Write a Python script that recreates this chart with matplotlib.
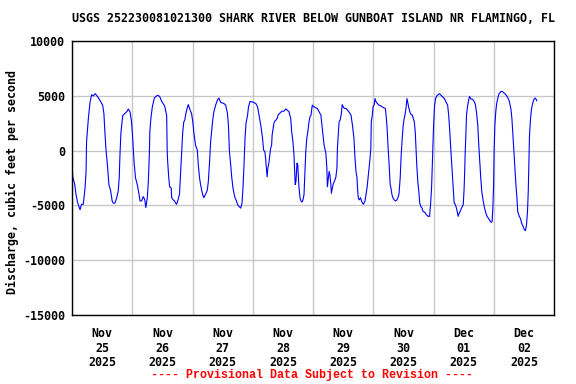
import numpy as np
import pandas as pd
import matplotlib
matplotlib.use("Agg")
import matplotlib.pyplot as plt

# hours after 2025-11-25 00:00, discharge in cfs
hours = [
    0.0, 0.3, 1.1, 1.6, 2.1, 2.6, 3.2, 3.8, 4.5, 5.2, 5.6, 5.8, 6.5, 7.2, 7.8, 8.5, 9.2, 9.8,
    11.1, 12.2, 12.7, 13.1, 13.5, 14.1, 14.7, 15.4, 16.0, 16.4, 17.1, 17.8, 18.4, 18.8, 19.1,
    19.5, 20.2, 21.1, 22.0, 22.4, 23.1, 23.7, 24.1, 24.7, 25.3, 26.0, 26.7, 27.1, 27.7, 28.4,
    29.0, 29.4, 30.0, 30.4, 30.8, 31.0, 31.4, 32.0, 32.8, 33.7, 34.3, 35.0, 35.7, 36.3, 37.0,
    37.7, 37.9, 38.1, 38.5, 38.9, 39.5, 39.7, 40.3, 40.8, 41.6, 42.1, 42.8, 43.2, 43.6, 44.1,
    44.5, 44.9, 45.5, 45.9, 46.3, 46.8, 47.2, 47.6, 48.1, 48.5, 49.2, 49.9, 50.3, 50.8, 51.2,
    51.9, 52.5, 53.2, 53.9, 54.3, 54.8, 55.2, 55.6, 56.1, 56.5, 57.2, 57.9, 58.5, 59.2, 60.5,
    61.2, 61.9, 62.3, 62.7, 63.2, 63.6, 64.1, 64.5, 64.9, 65.5, 65.9, 66.5, 67.2, 67.7, 68.1,
    68.5, 68.9, 69.3, 69.9, 70.3, 70.9, 71.6, 72.3, 73.2, 73.9, 74.5, 75.2, 75.9, 76.3, 76.8,
    77.1, 77.5, 77.7, 78.0, 78.4, 78.8, 79.1, 79.5, 79.7, 80.1, 80.4, 80.8, 81.3, 81.7, 82.1,
    82.7, 83.1, 83.7, 84.4, 85.1, 85.7, 86.4, 87.1, 87.5, 88.0, 88.4, 88.7, 88.9, 89.2, 89.6,
    89.9, 90.1, 90.4, 90.8, 91.2, 91.6, 92.0, 92.4, 92.8, 93.1, 93.5, 93.9, 94.4, 94.8, 95.2,
    95.5, 95.7, 96.4, 97.1, 97.7, 98.4, 99.1, 99.7, 100.4, 101.1, 101.5, 101.7, 102.1, 102.4,
    102.7, 103.1, 103.3, 103.7, 104.1, 104.7, 105.1, 105.5, 105.7, 106.1, 106.4, 106.8, 107.2,
    107.6, 108.0, 108.5, 109.1, 109.7, 110.4, 111.1, 111.7, 112.3, 112.7, 113.1, 113.5, 113.7,
    114.0, 114.4, 114.9, 115.3, 115.7, 116.1, 116.7, 117.1, 117.5, 117.9, 118.3, 118.7, 119.0,
    119.2, 119.6, 119.9, 120.3, 120.7, 121.0, 121.6, 122.2, 122.9, 123.5, 124.2, 124.8, 125.2,
    125.5, 125.9, 126.3, 126.7, 127.0, 127.4, 127.8, 128.3, 128.9, 129.4, 129.8, 130.2, 130.7,
    131.1, 131.5, 131.9, 132.3, 132.6, 133.0, 133.4, 133.8, 134.2, 134.6, 135.0, 135.5, 135.9,
    136.3, 136.7, 137.0, 137.3, 137.7, 138.1, 138.5, 138.9, 139.4, 139.8, 140.2, 140.7, 141.1,
    141.8, 142.4, 142.8, 143.2, 143.6, 144.0, 144.4, 144.8, 145.3, 145.8, 146.3, 147.0, 147.6,
    148.3, 148.9, 149.6, 150.0, 150.3, 150.6, 151.0, 151.4, 151.8, 152.2, 152.6, 153.1, 153.8,
    154.2, 154.6, 155.1, 155.8, 156.1, 156.3, 156.6, 156.9, 157.1, 157.5, 157.9, 158.3, 158.9,
    159.5, 160.0, 160.6, 161.1, 161.6, 162.0, 162.4, 162.8, 163.2, 163.8, 164.3, 164.8, 165.3,
    165.9, 166.4, 166.9, 167.3, 167.6, 167.9, 168.1, 168.4, 168.8, 169.2, 169.7, 170.1, 170.8,
    171.4, 172.1, 172.8, 173.4, 174.1, 174.8, 175.2, 175.6, 176.0, 176.4, 176.8, 177.2, 177.5,
    178.1, 178.6, 179.1, 179.7, 180.2, 180.6, 181.0, 181.4, 181.7, 181.9, 182.2, 182.6, 183.0,
    183.4, 183.9, 184.4, 184.8, 185.1,
]
discharge = [
    -1200, -2400, -3100, -4000, -4600, -5000, -5400, -4900, -4900, -3400, -1900, 800, 2900, 4450, 5100, 5000, 5200, 5050,
    4600, 4150, 3400, 1700, 200, -1300, -3100, -3700, -4600, -4800, -4800, -4300, -3700, -2500, -400,
    1700, 3200, 3400, 3600, 3800, 3550, 2650, 1400, -1000, -2500, -3100, -4000, -4600, -4600, -4200,
    -4500, -5200, -4300, -2800, -400, 1700, 2900, 4000, 4800, 5000, 5050, 4900, 4500, 4300, 4000,
    3200, 0, -1000, -2400, -3300, -3400, -4300, -4500, -4600, -4900, -4600, -4000, -2200, -400, 1700,
    2600, 2800, 3550, 3900, 4200, 3850, 3600, 3400, 2650, 1700, 500, 50, -1300, -2500, -3100,
    -3900, -4300, -4000, -3600, -2800, -1000, 800, 1700, 2900, 3550, 4150, 4600, 4800, 4400, 4300,
    4150, 3400, 2300, -100, -1300, -2400, -3400, -3900, -4300, -4600, -4900, -5100, -5250, -4800, -3400,
    -1300, 1100, 2500, 3200, 4000, 4500, 4450, 4400, 4300, 4000, 3200, 2300, 1100, 50, -100,
    -700, -1900, -2400, -1600, -1150, -400, 200, 500, 1400, 2000, 2500, 2700, 2800, 2950, 3250,
    3400, 3500, 3600, 3600, 3800, 3700, 3550, 2950, 1700, 800, -400, -1900, -3100, -2800, -1150,
    -1300, -2200, -3400, -4300, -4600, -4700, -4500, -4000, -1900, -100, 1100, 1700, 2650, 3100, 3250,
    3850, 4150, 4000, 3900, 3850, 3550, 3250, 2000, 500, -250, -1600, -3300, -2500, -1900,
    -2200, -3100, -3900, -3400, -3000, -2700, -2400, -1600, 200, 1700, 2650, 2800, 3250,
    4200, 4000, 3850, 3850, 3700, 3500, 3250, 2300, 1100, -700, -1900, -2500, -3400,
    -4300, -4500, -4300, -4600, -4800, -4900, -4600, -4000, -3400, -2500, -1600, -700, 200,
    2650, 3250, 4000, 4150, 4750, 4500, 4300, 4150, 4100, 4000, 3900, 3850, 2950,
    2000, 200, -1300, -3100, -3400, -4000, -4300, -4500, -4600, -4500, -4300, -4000, -2500,
    -400, 1100, 2300, 2950, 3250, 3850, 4750, 4300, 3850, 3500, 3300, 3250, 2950,
    2650, 1700, 200, -1300, -2800, -3700, -4800, -5100, -5250, -5550, -5600, -5700, -5850,
    -6000, -6000, -4900, -3400, -400, 2300, 4150, 4750, 5000, 5100, 5200, 5050, 4900,
    4750, 4450, 4150, 3250, 2300, 1100, -400, -1900, -3400, -4800, -4900, -5250, -6000,
    -5700, -5550, -5250, -4950, -3750, -2550, -100, 1700, 3200, 4000, 4550, 4950, 4700,
    4700, 4550, 4250, 3500, 2300, 500, -1000, -2550, -3750, -4650, -5250, -5700, -6000,
    -6200, -6350, -6550, -6500, -5250, -3150, -100, 2300, 3650, 4400, 4900, 5200, 5400,
    5400, 5250, 5100, 4900, 4550, 3800, 2900, 1400, -100, -1650, -3150, -4350, -5550,
    -6000, -6200, -6650, -6950, -7250, -7300, -6800, -5550, -3750, -1650, 1400, 2900, 3800,
    4250, 4650, 4800, 4700, 4550,
]

start = pd.Timestamp("2025-11-25")
days = pd.date_range("2025-11-25", "2025-12-03", freq="D")
tick_labels = ["Nov\n25\n2025", "Nov\n26\n2025", "Nov\n27\n2025", "Nov\n28\n2025",
               "Nov\n29\n2025", "Nov\n30\n2025", "Dec\n01\n2025", "Dec\n02\n2025"]
y_ticks = [-15000, -10000, -5000, 0, 5000, 10000]

times = start + pd.to_timedelta(hours, unit="h")

font = {"family": "DejaVu Sans Mono", "weight": "bold", "size": 8.4}

fig = plt.figure(figsize=(5.76, 3.84), dpi=100)
ax = fig.add_axes([0.125, 0.18, 0.837, 0.713])

ax.plot(times, discharge, color="#0000ff", linewidth=0.8)

ax.set_xlim(days[0], days[-1])
ax.set_ylim(-15000, 10000)

# gridlines at midnight, labels at noon
ax.set_xticks(days, minor=False)
ax.set_xticklabels([])
ax.set_xticks(days[:-1] + pd.Timedelta(hours=12), minor=True)
ax.set_xticklabels(tick_labels, minor=True, fontdict=font, linespacing=1.15)
ax.tick_params(axis="x", which="both", length=0, pad=9)
ax.grid(True, axis="x", which="major", color="#c8c8c8", linewidth=1)

ax.set_yticks(y_ticks)
ax.set_yticklabels([str(v) for v in y_ticks], fontdict=font)
ax.tick_params(axis="y", length=0, pad=5)
ax.grid(True, axis="y", color="#c8c8c8", linewidth=1)
ax.set_axisbelow(True)

for s in ax.spines.values():
    s.set_color("black")
    s.set_linewidth(1)

fig.text(313 / 576, 1 - 19 / 384, "USGS 252230081021300 SHARK RIVER BELOW GUNBOAT ISLAND NR FLAMINGO, FL",
         ha="center", va="center", fontdict=font)
fig.text(12 / 576, 1 - 182 / 384, "Discharge, cubic feet per second", rotation=90,
         ha="center", va="center", fontdict=font)
fig.text(312 / 576, 1 - 375 / 384, "---- Provisional Data Subject to Revision ----",
         ha="center", va="center", color="red", family="Liberation Mono", weight="bold", size=8.4)

fig.savefig("out.png", dpi=100)
